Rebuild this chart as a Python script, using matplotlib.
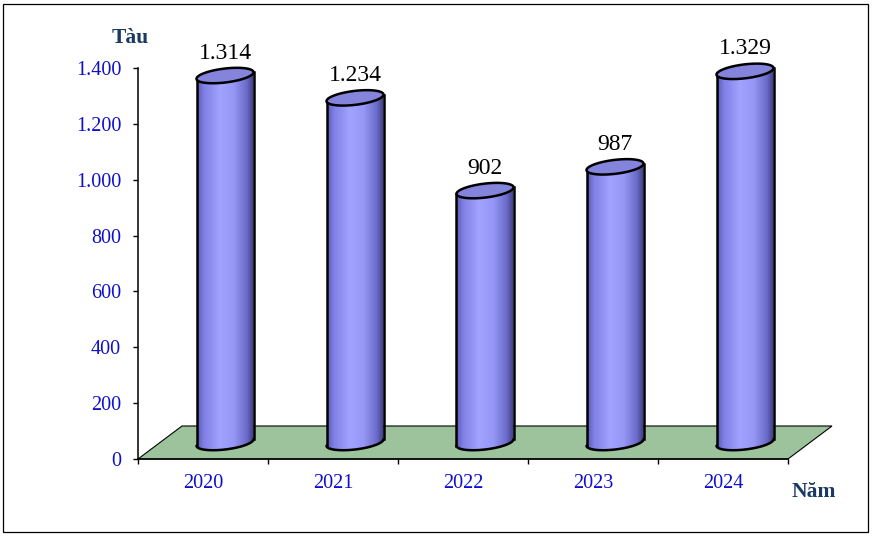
import matplotlib
matplotlib.use("Agg")
import numpy as np
import matplotlib.pyplot as plt
from matplotlib.patches import Polygon, PathPatch, Rectangle
from matplotlib.path import Path
from matplotlib.colors import LinearSegmentedColormap
from matplotlib.ticker import FuncFormatter, FixedLocator

plt.rcParams["font.family"] = ["Liberation Serif", "DejaVu Serif"]

# 数据
years = ["2020", "2021", "2022", "2023", "2024"]
ships = [1314, 1234, 902, 987, 1329]
ship_labels = ["1.314", "1.234", "902", "987", "1.329"]
y_ticks = [0, 200, 400, 600, 800, 1000, 1200, 1400]

W, H, DPI = 873, 538, 100
fig = plt.figure(figsize=(W / DPI, H / DPI), dpi=DPI)
# 坐标区（像素位置换算）
ax_l, ax_r, ax_t, ax_b = 138, 788, 68, 459
ax = fig.add_axes([ax_l / W, 1 - ax_b / H, (ax_r - ax_l) / W, (ax_b - ax_t) / H])
ax.set_xlim(0, len(years))
ax.set_ylim(0, 1400)

# 像素 -> 数据单位
ux = len(years) / (ax_r - ax_l)
uy = 1400 / (ax_b - ax_t)

# 3D 深度偏移
dx, dy = 44 * ux, 33 * uy

# 地板
floor = Polygon([(0, 0), (len(years), 0), (len(years) + dx, dy), (dx, dy)],
                closed=True, facecolor="#9CC39C", edgecolor="black", lw=0.8,
                clip_on=False, zorder=1)
ax.add_patch(floor)

cmap = LinearSegmentedColormap.from_list("cyl", [
    (0.0, "#5A5AB0"), (0.12, "#8080E6"), (0.4, "#A2A2FF"),
    (0.65, "#9696F6"), (0.88, "#6A6AC8"), (1.0, "#3C3C80")])
grad = cmap(np.linspace(0, 1, 128))[None, :, :3]

a = 28.5 * ux          # 半宽
b = 7 * uy             # 椭圆半高
s = (6.5 / 57) * uy / ux  # 斜切
t_front = np.linspace(np.pi, 2 * np.pi, 60)
t_back = np.linspace(0, np.pi, 60)
t_all = np.linspace(0, 2 * np.pi, 120)


def ell(cx, cy, t):
    return np.column_stack([cx + a * np.cos(t), cy + b * np.sin(t) + s * a * np.cos(t)])


for i, (v, lab) in enumerate(zip(ships, ship_labels)):
    cx = i + 0.5 + dx / 2
    y0 = dy / 2
    y1 = v + dy / 2
    body = np.vstack([ell(cx, y0, t_front), ell(cx, y1, t_back)])
    path = Path(np.vstack([body, body[:1]]), closed=True)
    clip = PathPatch(path, transform=ax.transData, facecolor="none", edgecolor="none")
    ax.add_patch(clip)
    im = ax.imshow(grad, extent=[cx - a, cx + a, y0 - b - s * a, y1 + s * a],
                   aspect="auto", interpolation="bilinear", zorder=2)
    im.set_clip_path(clip)
    # 轮廓
    fr = ell(cx, y0, t_front)
    ax.plot(fr[:, 0], fr[:, 1], color="black", lw=1.8, zorder=3, solid_capstyle="round")
    ax.plot([cx - a, cx - a], [y0 - s * a, y1 - s * a], color="black", lw=1.8, zorder=3,
            clip_on=False)
    ax.plot([cx + a, cx + a], [y0 + s * a, y1 + s * a], color="black", lw=1.8, zorder=3,
            clip_on=False)
    top = ell(cx, y1, t_all)
    ax.add_patch(Polygon(top, closed=True, facecolor="#8484DC", edgecolor="black",
                         lw=1.8, zorder=4, clip_on=False))
    ax.text(cx, y1 + b + 5 * uy, lab, ha="center", va="bottom", fontsize=17,
            color="black", zorder=5)

ax.set_xlim(0, len(years))
ax.set_ylim(0, 1400)

# 坐标轴
for sp in ["top", "right"]:
    ax.spines[sp].set_visible(False)
for sp in ["left", "bottom"]:
    ax.spines[sp].set_linewidth(1.1)
    ax.spines[sp].set_zorder(6)
ax.patch.set_visible(False)

ax.set_yticks(y_ticks)
ax.yaxis.set_major_formatter(FuncFormatter(lambda v, p: f"{int(v):,}".replace(",", ".")))
ax.tick_params(axis="y", direction="out", length=3.6, width=1.0, pad=8.5,
               labelsize=14.5, labelcolor="#1010CC")
ax.xaxis.set_major_locator(FixedLocator(range(len(years) + 1)))
ax.xaxis.set_major_formatter(FuncFormatter(lambda v, p: ""))
ax.xaxis.set_minor_locator(FixedLocator([i + 0.5 for i in range(len(years))]))
ax.set_xticklabels(years, minor=True)
ax.tick_params(axis="x", which="major", direction="out", length=3.6, width=1.0)
ax.tick_params(axis="x", which="minor", length=0, pad=11, labelsize=14.5,
               labelcolor="#1010CC")

fig.text(130 / W, 1 - 38 / H, "Tàu", ha="center", va="center", fontsize=15.5,
         fontweight="bold", color="#1B3A63")
fig.text(814 / W, 1 - 492 / H, "Năm", ha="center", va="center", fontsize=15.5,
         fontweight="bold", color="#1B3A63")

# 外框
fig.add_artist(Rectangle((3 / W, 1 - 532 / H), 865 / W, 528 / H, transform=fig.transFigure,
                         fill=False, edgecolor="black", lw=0.9))

plt.savefig("out.png", dpi=DPI)
plt.close("all")
